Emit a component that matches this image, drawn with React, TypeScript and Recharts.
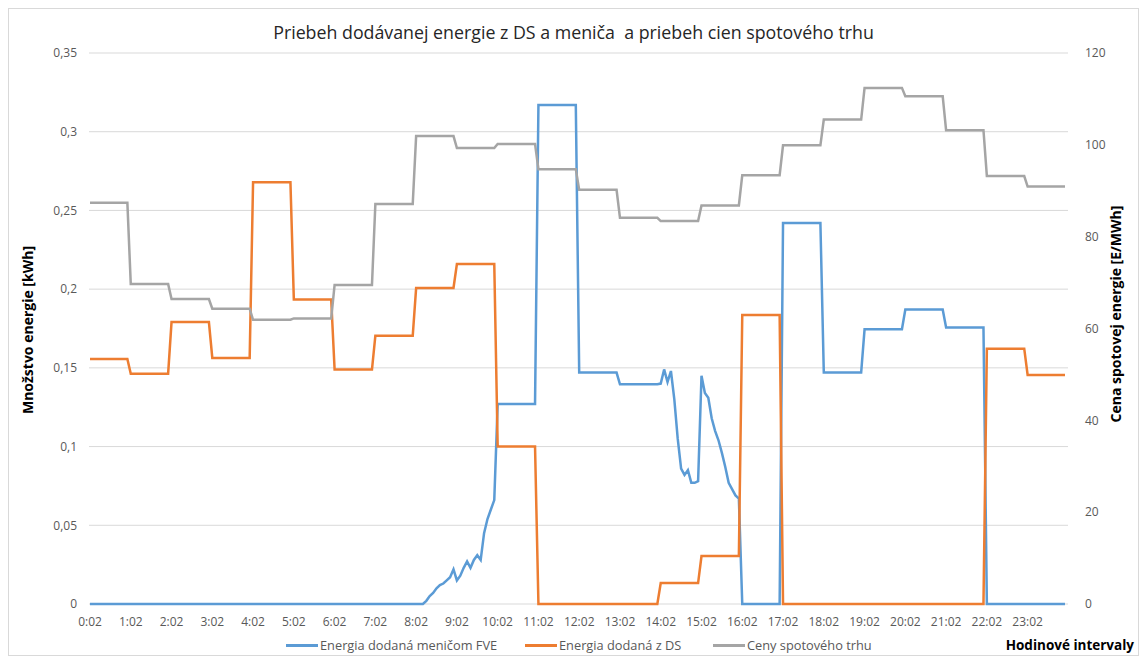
import { LineChart, Line, XAxis, YAxis, CartesianGrid } from "recharts";

// hours of the day and 5-minute slots inside each hour
const hours = [0, 1, 2, 3, 4, 5, 6, 7, 8, 9, 10, 11, 12, 13, 14, 15, 16, 17, 18, 19, 20, 21, 22, 23];
const minuteSlots = ["02", "07", "12", "17", "22", "27", "32", "37", "42", "47", "52", "57"];

// energy from inverter (FVE) [kWh], hourly blocks; null = see detailed arrays below
const fveHourly = [0, 0, 0, 0, 0, 0, 0, 0, null, null, 0.127, 0.317, 0.147, 0.1396, null, null, 0, 0.242, 0.147, 0.1745, 0.187, 0.1757, 0, 0];
// 8:02 .. 9:57
const fveMorning = [
  0, 0, 0, 0.002, 0.005, 0.007, 0.01, 0.012, 0.013, 0.015, 0.017, 0.022,
  0.015, 0.018, 0.023, 0.027, 0.023, 0.028, 0.031, 0.028, 0.045, 0.054, 0.06, 0.066,
];
// 14:02 .. 15:57
const fveAfternoon = [
  0.14, 0.149, 0.141, 0.148, 0.13, 0.105, 0.086, 0.082, 0.085, 0.077, 0.077, 0.078,
  0.145, 0.134, 0.131, 0.118, 0.11, 0.104, 0.096, 0.087, 0.077, 0.073, 0.069, 0.067,
];
// energy from distribution grid (DS) [kWh]
const dsHourly = [0.1556, 0.1463, 0.1791, 0.1563, 0.2679, 0.1935, 0.1489, 0.1704, 0.2007, 0.216, 0.1, 0, 0, 0, 0.0133, 0.0305, 0.1836, 0, 0, 0, 0, 0, 0.1622, 0.1455];
// spot market price [E/MWh]
const priceHourly = [87.4, 69.7, 66.4, 64.3, 61.9, 62.2, 69.5, 87.1, 101.9, 99.3, 100.2, 94.7, 90.2, 84.1, 83.4, 86.8, 93.4, 99.9, 105.5, 112.4, 110.6, 103.2, 93.2, 90.9];

const energyTicks = [0, 0.05, 0.1, 0.15, 0.2, 0.25, 0.3, 0.35];
const priceTicks = [0, 20, 40, 60, 80, 100, 120];

const fveAt = (h: number, i: number) => {
  if (h === 8 || h === 9) return fveMorning[(h - 8) * 12 + i];
  if (h === 14 || h === 15) return fveAfternoon[(h - 14) * 12 + i];
  return fveHourly[h];
};

const data = hours.flatMap((h) =>
  minuteSlots.map((m, i) => ({
    time: `${h}:${m}`,
    fve: fveAt(h, i),
    ds: dsHourly[h],
    price: priceHourly[h],
  }))
);

const font = "'Open Sans', 'Noto Sans', sans-serif";
const tick = { fontSize: 12, fontFamily: font, fill: "#595959" };

const series = [
  { key: "fve", name: "Energia dodaná meničom FVE", color: "#5b9bd5", left: 277 },
  { key: "ds", name: "Energia dodaná z DS", color: "#ed7d31", left: 516 },
  { key: "price", name: "Ceny spotového trhu", color: "#a5a5a5", left: 704 },
];

const axisTitle = {
  position: "absolute" as const,
  transform: "translate(-50%, -50%) rotate(-90deg)",
  whiteSpace: "nowrap" as const,
  fontSize: 14,
  fontWeight: 700,
  color: "#000",
};

export default function App() {
  return (
    <div
      style={{
        position: "relative",
        width: 1131,
        height: 648,
        boxSizing: "border-box",
        border: "1px solid #d9d9d9",
        background: "#fff",
        fontFamily: font,
      }}
    >
      <div
        style={{
          position: "absolute",
          top: 11,
          left: 0,
          width: "100%",
          textAlign: "center",
          fontSize: 17.8,
          color: "#262626",
        }}
      >
        Priebeh dodávanej energie z DS a meniča&nbsp; a priebeh cien spotového trhu
      </div>

      <LineChart
        width={1129}
        height={640}
        data={data}
        margin={{ top: 44, right: 10, bottom: 15, left: 20 }}
        style={{ position: "absolute", left: 0, top: 0 }}
      >
        <CartesianGrid yAxisId="left" vertical={false} stroke="#d9d9d9" strokeWidth={1} />
        <XAxis
          dataKey="time"
          interval={11}
          axisLine={false}
          tickLine={false}
          tick={tick}
          tickMargin={7}
          height={30}
          padding={{ left: 1, right: 3 }}
        />
        <YAxis
          yAxisId="left"
          domain={[0, 0.35]}
          ticks={energyTicks}
          axisLine={false}
          tickLine={false}
          tick={tick}
          tickMargin={6}
          width={60}
          tickFormatter={(v: number) => String(v).replace(".", ",")}
        />
        <YAxis
          yAxisId="right"
          orientation="right"
          domain={[0, 120]}
          ticks={priceTicks}
          axisLine={false}
          tickLine={false}
          tick={{ ...tick, textAnchor: "start" }}
          tickMargin={11}
          width={60}
        />
        <Line yAxisId="left" type="linear" dataKey="fve" name="Energia dodaná meničom FVE" stroke="#5b9bd5" strokeWidth={2.5} dot={false} isAnimationActive={false} />
        <Line yAxisId="left" type="linear" dataKey="ds" name="Energia dodaná z DS" stroke="#ed7d31" strokeWidth={2.5} dot={false} isAnimationActive={false} />
        <Line yAxisId="right" type="linear" dataKey="price" name="Ceny spotového trhu" stroke="#a5a5a5" strokeWidth={2.5} dot={false} isAnimationActive={false} />
      </LineChart>

      {/* axis titles */}
      <div style={{ ...axisTitle, left: 18, top: 321 }}>Množstvo energie [kWh]</div>
      <div style={{ ...axisTitle, left: 1106, top: 305 }}>Cena spotovej energie [E/MWh]</div>
      <div
        style={{
          position: "absolute",
          right: 4,
          top: 627,
          whiteSpace: "nowrap",
          fontSize: 13.5,
          fontWeight: 700,
          color: "#000",
        }}
      >
        Hodinové intervaly
      </div>

      {/* legend */}
      {series.map((s) => (
        <div
          key={s.key}
          style={{
            position: "absolute",
            left: s.left,
            top: 627,
            display: "flex",
            alignItems: "center",
            whiteSpace: "nowrap",
            fontSize: 12.8,
            color: "#595959",
          }}
        >
          <span style={{ display: "inline-block", width: 32, height: 3, background: s.color, marginRight: 2 }} />
          {s.name}
        </div>
      ))}
    </div>
  );
}
